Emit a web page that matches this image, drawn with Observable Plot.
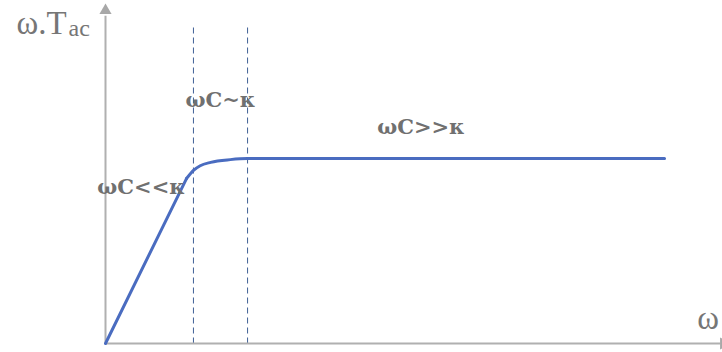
<!DOCTYPE html>
<html>
<head>
<meta charset="utf-8">
<script src="https://cdn.jsdelivr.net/npm/d3@7"></script>
<script src="https://cdn.jsdelivr.net/npm/@observablehq/plot@0.6"></script>
<style>
html,body{margin:0;padding:0;background:#fff;}
</style>
</head>
<body>
<div id="chart"></div>
<script>
// curve ω·Tac versus ω (schematic): straight rise, then bend, then plateau
const riseX = [0, 1.317];
const riseY = [0, 4.88];
const bendX = [1.317, 1.38, 1.43, 1.54, 1.71, 2.03, 2.31, 9.09];
const bendY = [4.88, 5.02, 5.12, 5.26, 5.36, 5.44, 5.47, 5.47];
// regime boundaries (dashed verticals)
const boundaryX = [1.43, 2.31];
const boundaryTop = 9.41;
// regime labels
const regimeLabels = ["ωC<<κ", "ωC~κ", "ωC>>κ"];
const regimeX = [0.58, 1.87, 5.13];
const regimeY = [4.62, 7.19, 6.39];
// axis labels
const axisLabelText = ["ω.T", "ac", "ω"];
const axisLabelX = [-1.447, -0.60, 9.80];
const axisLabelY = [9.47, 9.33, 0.73];
const axisLabelSize = [33, 24, 33];
const axisLabelAnchor = ["start", "start", "middle"];
// axis extents and arrowheads
const axisEndX = 10;
const axisEndY = 9.7;
const headX = [0, 10.05];
const headY = [9.85, 0];
const headRotate = [0, 90];

const rise = riseX.map((x, i) => ({x, y: riseY[i]}));
const bend = bendX.map((x, i) => ({x, y: bendY[i]}));
const boundaries = boundaryX.map(x => ({x1: x, y1: 0, x2: x, y2: boundaryTop}));
const regimes = regimeLabels.map((t, i) => ({t, x: regimeX[i], y: regimeY[i]}));
const axes = [{x1: 0, y1: 0, x2: axisEndX, y2: 0}, {x1: 0, y1: 0, x2: 0, y2: axisEndY}];
const heads = headX.map((x, i) => ({x, y: headY[i], r: headRotate[i]}));

const serif = "'Liberation Serif', 'DejaVu Serif', serif";

const labelMarks = axisLabelText.map((t, i) =>
  Plot.text([{t, x: axisLabelX[i], y: axisLabelY[i]}], {
    x: "x", y: "y", text: "t", fill: "#767676",
    fontSize: axisLabelSize[i], fontFamily: serif, textAnchor: axisLabelAnchor[i]
  })
);

const chart = Plot.plot({
  width: 722,
  height: 352,
  marginLeft: 105,
  marginRight: 2,
  marginTop: 5,
  marginBottom: 9,
  x: {domain: [0, 10], axis: null},
  y: {domain: [0, 10], axis: null},
  style: {background: "#fff", overflow: "visible"},
  marks: [
    Plot.link(boundaries, {x1: "x1", y1: "y1", x2: "x2", y2: "y2", stroke: "#3f5f95", strokeWidth: 1, strokeDasharray: "6,4"}),
    Plot.link(axes, {x1: "x1", y1: "y1", x2: "x2", y2: "y2", stroke: "#b0b0b0", strokeWidth: 2}),
    Plot.dot(heads, {x: "x", y: "y", rotate: "r", symbol: "triangle", r: 4.5, fill: "#a8a8a8", stroke: "none"}),
    Plot.line(rise, {x: "x", y: "y", stroke: "#4a6cc0", strokeWidth: 3, curve: "linear"}),
    Plot.line(bend, {x: "x", y: "y", stroke: "#4a6cc0", strokeWidth: 3, curve: "monotone-x"}),
    Plot.text(regimes, {x: "x", y: "y", text: "t", fill: "#707070", fontSize: 21, fontWeight: "bold", fontFamily: "'DejaVu Serif', serif", textAnchor: "middle"}),
    ...labelMarks
  ]
});
document.getElementById("chart").appendChild(chart);
</script>
</body>
</html>
